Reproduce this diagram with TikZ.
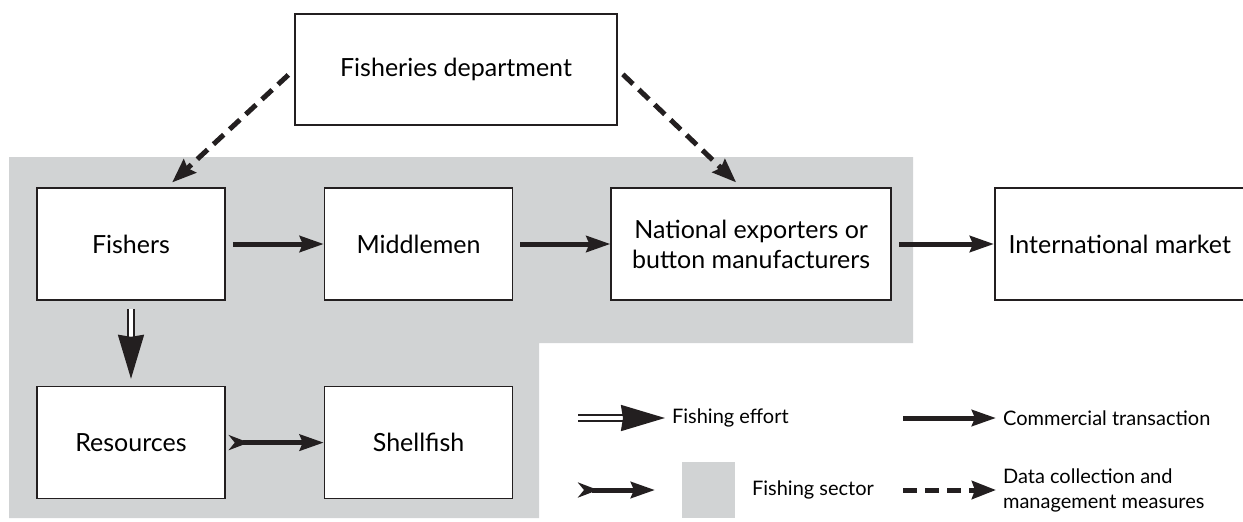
\documentclass[tikz,border=0pt]{standalone}
\usepackage{fontspec}
\setmainfont{Lato}
\usetikzlibrary{positioning,arrows.meta}
\definecolor{sectorgray}{RGB}{209,211,212}
\definecolor{ink}{RGB}{35,31,32}

\begin{document}
\begin{tikzpicture}[x=0.5pt,y=-0.5pt,
  box/.style={draw=ink,line width=0.8pt,fill=white,minimum height=56pt,
    align=center,font=\fontsize{12.5}{15}\selectfont},
  trade/.style={draw=ink,line width=2.5pt,
    -{Stealth[length=12pt,width=8pt,inset=1.5pt]},shorten <=3.5pt},
  effort/.style={draw=ink,line width=1pt,double=white,double distance=1.6pt,
    -{Stealth[length=22pt,width=13pt,inset=1pt]}},
  catch/.style={draw=ink,line width=2.5pt,
    {Stealth[reversed,length=10pt,width=7.5pt,inset=3pt]}-{Stealth[length=12pt,width=8pt,inset=1.5pt]}},
  datalink/.style={draw=ink,line width=2.5pt,dash pattern=on 7pt off 4pt,
    -{Stealth[length=12pt,width=9pt,inset=1.5pt]}},
  lbl/.style={anchor=west,align=left,font=\fontsize{10}{12.5}\selectfont}]
  \useasboundingbox (0,0) rectangle (1243,521);

  % fishing sector
  \fill[sectorgray] (9,157) -- (913,157) -- (913,343) -- (539,343)
    -- (539,518) -- (9,518) -- cycle;

  \node[box,minimum width=94pt] (fishers) at (131,244) {Fishers};
  \node[box,minimum width=94pt,right=49pt of fishers] (middle) {Middlemen};
  \node[box,minimum width=140pt,right=48.5pt of middle] (natexp) {National exporters or\\button manufacturers};
  \node[box,minimum width=125pt,right=51pt of natexp] (intl) {International market};
  \node[box,minimum width=94pt,below=42.5pt of fishers] (res) {Resources};
  \node[box,minimum width=94pt,right=49pt of res] (shell) {Shellfish};
  \node[box,minimum width=161pt,minimum height=55.5pt] (dept) at (456,69.5) {Fisheries department};

  \draw[trade] (fishers) -- (middle);
  \draw[trade] (middle) -- (natexp);
  \draw[trade] (natexp) -- (intl);
  \draw[effort,shorten <=4pt,shorten >=3.5pt] (fishers) -- (res);
  \draw[catch,shorten <=1.5pt] (res) -- (shell);
  \draw[datalink,shorten <=4pt,shorten >=3.5pt] (dept.west) -- ([xshift=18pt]fishers.north);
  \draw[datalink,shorten <=3.5pt,shorten >=3.5pt] (dept.east) -- ([xshift=-5pt]natexp.north);

  % legend
  \node[lbl] (keyeffort) at (665,418) {Fishing effort};
  \node[lbl] (keytrade) at (996,418) {Commercial transaction};
  \node[fill=sectorgray,minimum width=26.5pt,minimum height=28pt] (keysector) at (708,490) {};
  \node[lbl] (keysectortxt) at (745,490) {Fishing sector};
  \node[lbl] (keydata) at (996,490) {Data collection and\\management measures};
  \coordinate (e0) at (578,418);
  \coordinate (t0) at (903,418);
  \coordinate (c0) at (578,490);
  \coordinate (c1) at (655,490);
  \coordinate (d0) at (903,490);
  \draw[effort] (e0) -- (keyeffort);
  \draw[trade,shorten <=0pt] (t0) -- (keytrade);
  \draw[catch] (c0) -- (c1);
  \draw[datalink] (d0) -- (keydata);
\end{tikzpicture}
\end{document}
